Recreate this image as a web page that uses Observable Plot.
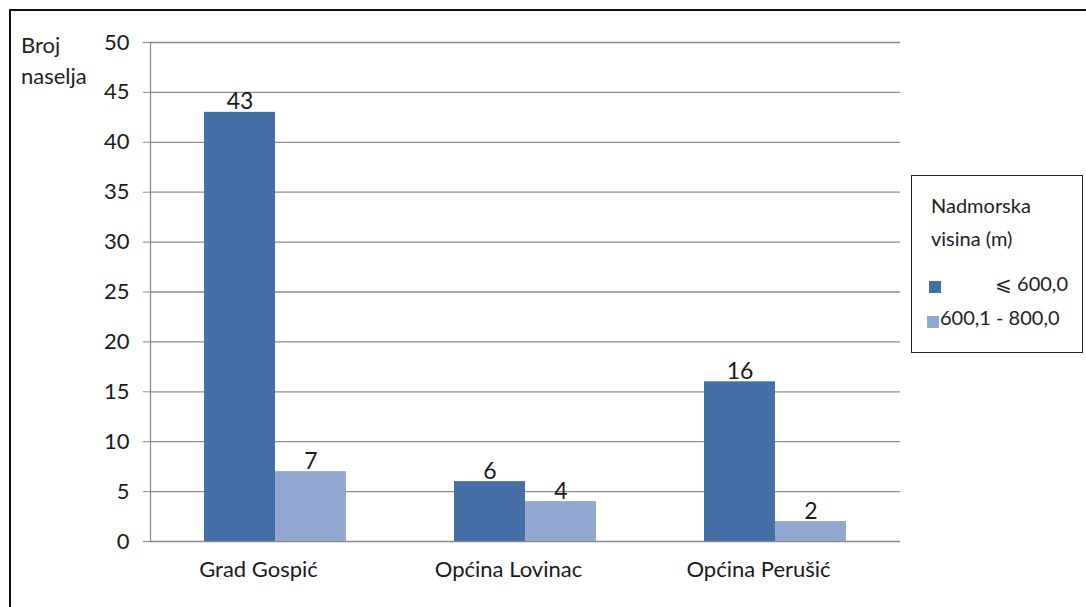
<!DOCTYPE html>
<html>
<head>
<meta charset="utf-8">
<script src="https://cdn.jsdelivr.net/npm/d3@7"></script>
<script src="https://cdn.jsdelivr.net/npm/@observablehq/plot@0.6"></script>
<style>
  html, body { margin: 0; padding: 0; background: #fff; }
  #wrap { position: relative; width: 1086px; height: 607px; overflow: hidden; font-family: Lato, "Open Sans", sans-serif; color: #222; }
  #wrap svg { position: absolute; left: 0; top: 0; }
  #border { position: absolute; left: 9px; top: 9px; width: 1200px; height: 700px; border-left: 2px solid #111; border-top: 2px solid #111; }
  #ylab { position: absolute; left: 21px; top: 29px; font-size: 22px; line-height: 31px; }
  #legend { position: absolute; left: 911px; top: 175px; width: 170px; height: 176px; border: 1.5px solid #222; background: #fff; font-size: 20px; }
  #legend .title { position: absolute; left: 19px; top: 13px; line-height: 33px; }
  #legend .sw { position: absolute; width: 12px; height: 12px; }
  #legend .lab { position: absolute; white-space: nowrap; }
</style>
</head>
<body>
<div id="wrap">
  <div id="border"></div>
  <div id="ylab">Broj<br>naselja</div>
  <div id="legend"></div>
</div>
<script>
const categories = ["Grad Gospić", "Općina Lovinac", "Općina Perušić"];
const series = ["⩽ 600,0", "600,1 - 800,0"];
const below600 = [43, 6, 16];
const from600to800 = [7, 4, 2];
const yTicks = [0, 5, 10, 15, 20, 25, 30, 35, 40, 45, 50];
const colors = ["#4470a6", "#93a8d1"];
const grid = "#8c8c8c";

const data = categories.flatMap((c, i) => [
  {category: c, series: series[0], value: below600[i]},
  {category: c, series: series[1], value: from600to800[i]}
]);

const chart = Plot.plot({
  width: 1086,
  height: 607,
  marginLeft: 150,
  marginRight: 186,
  marginTop: 42,
  marginBottom: 66,
  style: {fontFamily: "Lato, 'Open Sans', sans-serif", fontSize: "20px", color: "#222", background: "transparent"},
  fx: {domain: categories, padding: 0, label: null, axis: null},
  x: {domain: series, paddingInner: 0, paddingOuter: 0.76, axis: null},
  y: {domain: [0, 50], ticks: yTicks, label: null, axis: null},
  color: {domain: series, range: colors},
  marks: [
    Plot.ruleY(yTicks, {stroke: grid, strokeWidth: 1.3}),
    Plot.barY(data, {fx: "category", x: "series", y: "value", fill: "series"}),
    Plot.text(data, {fx: "category", x: "series", y: "value", text: d => String(d.value), lineAnchor: "bottom", dy: -3, fontSize: 23, fill: "#1a1a1a"}),
    Plot.axisY({ticks: yTicks, tickSize: 7, tickPadding: 14, stroke: grid, fill: "#1a1a1a", fontSize: 22, label: null}),
    Plot.axisFx({anchor: "bottom", tickSize: 0, tickPadding: 20, dx: -17, fontSize: 22, fill: "#1a1a1a", label: null}),
    Plot.frame({anchor: "left", facetAnchor: "left", stroke: grid, strokeWidth: 1.3})
  ]
});
document.getElementById("wrap").appendChild(chart);

const legend = document.getElementById("legend");
legend.innerHTML = `<div class="title">Nadmorska<br>visina (m)</div>`;
const rows = [
  {sw: [17, 105], lab: [null, 95], right: 14},
  {sw: [15, 140], lab: [28, 129]}
];
series.forEach((s, i) => {
  const sw = document.createElement("div");
  sw.className = "sw";
  sw.style.left = rows[i].sw[0] + "px";
  sw.style.top = rows[i].sw[1] + "px";
  sw.style.background = colors[i];
  legend.appendChild(sw);
  const lab = document.createElement("div");
  lab.className = "lab";
  lab.textContent = s;
  lab.style.top = rows[i].lab[1] + "px";
  if (rows[i].lab[0] === null) lab.style.right = rows[i].right + "px";
  else lab.style.left = rows[i].lab[0] + "px";
  legend.appendChild(lab);
});
</script>
</body>
</html>
